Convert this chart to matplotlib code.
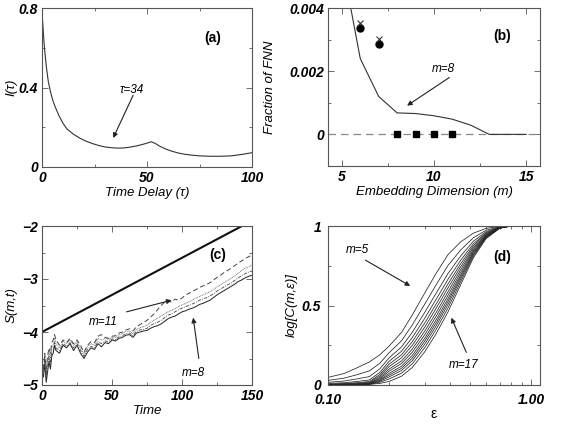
import matplotlib
matplotlib.use("Agg")
import matplotlib.pyplot as plt
from matplotlib.ticker import FixedLocator, NullFormatter, LogLocator

plt.rcParams['font.family'] = ['Liberation Sans', 'DejaVu Sans']

# ---------------- data: panel (a) ----------------
tau = [0, 1, 2, 3, 4, 5, 6, 8, 10, 12, 15, 18, 21, 24, 27, 30, 33, 36, 39, 42, 45, 48, 50, 52,
       54, 56, 59, 62, 65, 68, 71, 75, 80, 85, 90, 95, 100]
mutual_info = [0.78, 0.62, 0.51, 0.43, 0.38, 0.34, 0.31, 0.26, 0.22, 0.19, 0.165, 0.145, 0.13,
               0.118, 0.108, 0.101, 0.097, 0.095, 0.096, 0.100, 0.106, 0.114, 0.120, 0.127,
               0.118, 0.105, 0.090, 0.079, 0.070, 0.064, 0.060, 0.056, 0.054, 0.054, 0.056,
               0.063, 0.072]

# ---------------- data: panel (b) ----------------
fnn_m = [5, 6, 7, 8, 9, 10, 11, 12, 13, 14, 15]
fnn_frac = [0.0055, 0.0024, 0.0012, 0.00068, 0.00066, 0.00059, 0.00048, 0.00029, 0.0, 0.0, 0.0]
circ_m = [6, 7]
circ_v = [0.00338, 0.00286]
cross_m = [6, 7]
cross_v = [0.00354, 0.00302]
sq_m = [8, 9, 10, 11]
sq_v = [0.0, 0.0, 0.0, 0.0]
zero_m = [4.25, 15.75]
zero_v = [0.0, 0.0]

# ---------------- data: panel (c) ----------------
t = [0, 1, 2, 3, 4, 5, 6, 7, 8, 9, 10,
     12.5, 15, 17.5, 20, 22.5, 25, 27.5, 30, 32.5, 35, 37.5, 40, 42.5, 45, 47.5, 50,
     52.5, 55, 57.5, 60, 62.5, 65, 67.5, 70, 72.5, 75, 77.5, 80, 82.5, 85, 87.5, 90,
     92.5, 95, 97.5, 100, 102.5, 105, 107.5, 110, 112.5, 115, 117.5, 120, 122.5, 125,
     127.5, 130, 132.5, 135, 137.5, 140, 142.5, 145, 147.5, 150]
s_m8 = [-4.70, -4.85, -4.60, -4.95, -4.75, -4.55, -4.70, -4.45, -4.40, -4.25, -4.35,
        -4.40, -4.25, -4.30, -4.22, -4.35, -4.25, -4.40, -4.50, -4.38, -4.30, -4.33, -4.22,
        -4.28, -4.20, -4.22, -4.15, -4.17, -4.12, -4.10, -4.06, -4.05, -4.10, -4.02, -4.00,
        -3.98, -3.97, -3.93, -3.90, -3.88, -3.85, -3.80, -3.75, -3.72, -3.70, -3.66, -3.62,
        -3.60, -3.57, -3.55, -3.52, -3.48, -3.46, -3.43, -3.40, -3.35, -3.30, -3.26, -3.22,
        -3.18, -3.14, -3.10, -3.05, -3.02, -2.98, -2.95, -2.93]
s_m9 = [-4.65, -4.80, -4.50, -4.85, -4.65, -4.45, -4.60, -4.35, -4.35, -4.20, -4.30,
        -4.35, -4.22, -4.27, -4.20, -4.30, -4.22, -4.35, -4.46, -4.33, -4.27, -4.30, -4.18,
        -4.22, -4.17, -4.18, -4.13, -4.14, -4.09, -4.07, -4.03, -4.02, -4.07, -3.99, -3.96,
        -3.95, -3.93, -3.88, -3.84, -3.82, -3.78, -3.73, -3.68, -3.66, -3.62, -3.58, -3.55,
        -3.52, -3.50, -3.47, -3.44, -3.40, -3.38, -3.35, -3.32, -3.28, -3.23, -3.19, -3.15,
        -3.11, -3.08, -3.03, -2.98, -2.94, -2.90, -2.87, -2.85]
s_m10 = [-4.60, -4.75, -4.45, -4.80, -4.55, -4.40, -4.50, -4.30, -4.25, -4.12, -4.22,
         -4.30, -4.18, -4.22, -4.15, -4.25, -4.18, -4.30, -4.42, -4.28, -4.22, -4.25, -4.12,
         -4.15, -4.12, -4.14, -4.10, -4.10, -4.05, -4.03, -3.99, -3.98, -4.03, -3.95, -3.92,
         -3.90, -3.87, -3.82, -3.78, -3.74, -3.70, -3.66, -3.62, -3.59, -3.56, -3.52, -3.49,
         -3.46, -3.43, -3.40, -3.36, -3.33, -3.30, -3.27, -3.24, -3.20, -3.15, -3.11, -3.07,
         -3.03, -2.99, -2.94, -2.89, -2.84, -2.80, -2.77, -2.74]
s_m11 = [-4.55, -4.70, -4.40, -4.70, -4.45, -4.30, -4.40, -4.20, -4.15, -4.05, -4.15,
         -4.25, -4.15, -4.20, -4.12, -4.22, -4.15, -4.25, -4.38, -4.25, -4.18, -4.20, -4.08,
         -4.05, -4.10, -4.12, -4.08, -4.07, -4.02, -4.00, -3.96, -3.94, -3.98, -3.90, -3.86,
         -3.82, -3.78, -3.72, -3.66, -3.58, -3.50, -3.44, -3.40, -3.44, -3.38, -3.40, -3.36,
         -3.30, -3.27, -3.23, -3.20, -3.16, -3.13, -3.10, -3.07, -3.02, -2.97, -2.93, -2.88,
         -2.84, -2.80, -2.75, -2.70, -2.66, -2.62, -2.58, -2.55]
ref_t = [0, 150]
ref_s = [-4.0, -1.90]

# ---------------- data: panel (d) ----------------
eps = [0.10, 0.12, 0.14, 0.16, 0.18, 0.20, 0.23, 0.26, 0.30, 0.34, 0.39, 0.45, 0.52, 0.60, 0.70, 0.80]
c_m5 = [.048, .072, .110, .145, .190, .245, .330, .440, .580, .700, .820, .900, .955, .985, .998, 1.0]
c_m6 = [.029, .043, .066, .089, .137, .203, .278, .377, .510, .628, .752, .849, .926, .973, .996, 1.0]
c_m7 = [.017, .025, .039, .053, .102, .171, .239, .331, .458, .575, .701, .811, .904, .964, .994, 1.0]
c_m8 = [.010, .014, .023, .032, .079, .149, .212, .298, .421, .537, .665, .784, .888, .957, .992, 1.0]
c_m9 = [.006, .009, .015, .022, .066, .131, .190, .272, .391, .506, .636, .762, .876, .952, .991, 1.0]
c_m10 = [.004, .007, .011, .017, .056, .116, .171, .249, .365, .480, .611, .743, .865, .947, .990, 1.0]
c_m11 = [.003, .004, .008, .012, .047, .100, .151, .226, .340, .453, .586, .725, .854, .943, .990, 1.0]
c_m12 = [.002, .003, .005, .010, .040, .087, .135, .206, .317, .430, .564, .708, .845, .939, .989, 1.0]
c_m13 = [.001, .002, .004, .008, .033, .073, .118, .186, .295, .407, .543, .692, .836, .935, .988, 1.0]
c_m14 = [.001, .001, .003, .007, .028, .062, .105, .169, .277, .388, .525, .679, .828, .932, .987, 1.0]
c_m15 = [.000, .001, .002, .005, .023, .051, .091, .153, .258, .369, .507, .665, .820, .928, .987, 1.0]
c_m16 = [.000, .000, .001, .005, .017, .038, .074, .133, .236, .347, .485, .649, .811, .925, .986, 1.0]
c_m17 = [.000, .000, .001, .004, .010, .022, .055, .110, .210, .320, .460, .630, .800, .920, .985, 1.0]
corr_curves = [c_m5, c_m6, c_m7, c_m8, c_m9, c_m10, c_m11, c_m12, c_m13, c_m14, c_m15, c_m16, c_m17]

# ---------------- figure ----------------
fig = plt.figure(figsize=(5.68, 4.24), dpi=100)
W, H = 568.0, 424.0

def mkax(l, r, t_, b):
    return fig.add_axes([l / W, 1 - b / H, (r - l) / W, (b - t_) / H])

axA = mkax(42, 252, 8, 167)
axB = mkax(328, 540, 8, 166)
axC = mkax(42, 252, 226, 385)
axD = mkax(328, 540, 226, 385)

LABFONT = dict(fontsize=9.5, fontstyle='italic')
ANNFONT = dict(fontsize=8.5, fontstyle='italic')
SPINE_C = '#555555'

def style(ax, xpad=3, ypad=3):
    for s in ax.spines.values():
        s.set_linewidth(0.8)
        s.set_color(SPINE_C)
    ax.tick_params(which='both', direction='in', top=True, right=True, color=SPINE_C,
                   width=0.6)
    ax.tick_params(which='major', length=4)
    ax.tick_params(axis='x', which='major', pad=xpad)
    ax.tick_params(axis='y', which='major', pad=ypad)
    ax.tick_params(which='minor', length=2.5)
    for lbl in ax.get_xticklabels() + ax.get_yticklabels():
        lbl.set_fontsize(10)
        lbl.set_fontweight('bold')
        lbl.set_fontstyle('italic')

arrow_kw = dict(arrowstyle='-|>', color='#222222', lw=0.8, mutation_scale=7, shrinkA=0, shrinkB=0)

# ---- (a)
axA.plot(tau, mutual_info, color='#333333', lw=0.8)
axA.set_xlim(0, 100)
axA.set_ylim(0, 0.8)
axA.set_xticks([0, 50, 100])
axA.set_xticklabels(['0', '50', '100'])
axA.set_yticks([0, 0.4, 0.8])
axA.set_yticklabels(['0', '0.4', '0.8'])
axA.xaxis.set_minor_locator(FixedLocator([25, 75]))
axA.yaxis.set_minor_locator(FixedLocator([0.2, 0.6]))
axA.set_xlabel('Time Delay (τ)', labelpad=1, **LABFONT)
axA.set_ylabel('I(τ)', labelpad=1, **LABFONT)
axA.annotate('', xy=(33.9, 0.146), xytext=(43.4, 0.361), arrowprops=arrow_kw)
axA.text(42.6, 0.387, 'τ=34', ha='center', va='center', **ANNFONT)
axA.text(81.5, 0.65, '(a)', ha='center', va='center', fontsize=10, fontweight='bold')
style(axA)

# ---- (b)
axB.plot(zero_m, zero_v, color='#888888', lw=0.9, dashes=(6, 4))
axB.plot(fnn_m, fnn_frac, color='#333333', lw=0.8)
axB.plot(circ_m, circ_v, 'o', color='black', ms=5)
axB.plot(cross_m, cross_v, 'x', color='#333333', ms=5, mew=0.8)
axB.plot(sq_m, sq_v, 's', color='black', ms=4.5)
axB.set_xlim(4.25, 15.75)
axB.set_ylim(-0.001, 0.004)
axB.set_xticks([5, 10, 15])
axB.set_xticklabels(['5', '10', '15'])
axB.set_yticks([0, 0.002, 0.004])
axB.set_yticklabels(['0', '0.002', '0.004'])
axB.xaxis.set_minor_locator(FixedLocator([7.5, 12.5]))
axB.yaxis.set_minor_locator(FixedLocator([0.001, 0.003]))
axB.set_xlabel('Embedding Dimension (m)', labelpad=1, **LABFONT)
axB.set_ylabel('Fraction of FNN', labelpad=9, **LABFONT)
axB.annotate('', xy=(8.54, 0.00091), xytext=(10.83, 0.0018), arrowprops=arrow_kw)
axB.text(10.5, 0.00208, 'm=8', ha='center', va='center', **ANNFONT)
axB.text(13.7, 0.0031, '(b)', ha='center', va='center', fontsize=10, fontweight='bold')
style(axB)

# ---- (c)
axC.plot(ref_t, ref_s, color='#111111', lw=1.5)
axC.plot(t, s_m8, color='#222222', lw=0.7)
axC.plot(t, s_m9, color='#444444', lw=0.6, dashes=(4, 1.5, 1, 1.5))
axC.plot(t, s_m10, color='#555555', lw=0.6, dashes=(1, 1))
axC.plot(t, s_m11, color='#444444', lw=0.7, dashes=(5, 3))
axC.set_xlim(0, 150)
axC.set_ylim(-5, -2)
axC.set_xticks([0, 50, 100, 150])
axC.set_xticklabels(['0', '50', '100', '150'])
axC.set_yticks([-5, -4, -3, -2])
axC.set_yticklabels(['\u22125', '\u22124', '\u22123', '\u22122'])
axC.xaxis.set_minor_locator(FixedLocator([25, 75, 125]))
axC.yaxis.set_minor_locator(FixedLocator([-4.5, -3.5, -2.5]))
axC.set_xlabel('Time', labelpad=1, **LABFONT)
axC.set_ylabel('S(m,t)', labelpad=3, **LABFONT)
axC.annotate('', xy=(92.5, -3.40), xytext=(60.4, -3.62), arrowprops=arrow_kw)
axC.text(43.7, -3.81, 'm=11', ha='center', va='center', **ANNFONT)
axC.annotate('', xy=(108, -3.73), xytext=(112, -4.50), arrowprops=arrow_kw)
axC.text(108, -4.78, 'm=8', ha='center', va='center', **ANNFONT)
axC.text(125.7, -2.55, '(c)', ha='center', va='center', fontsize=10, fontweight='bold')
style(axC)

# ---- (d)
for cv in corr_curves:
    axD.plot(eps, cv, color='#222222', lw=0.55)
axD.set_xscale('log')
axD.set_xlim(0.1, 1.107)
axD.set_ylim(0, 1)
axD.set_xticks([0.1, 1.0])
axD.set_xticklabels(['0.10', '1.00'])
axD.xaxis.set_minor_locator(LogLocator(base=10, subs=[2, 3, 4, 5, 6, 7, 8, 9]))
axD.xaxis.set_minor_formatter(NullFormatter())
axD.set_yticks([0, 0.5, 1])
axD.set_yticklabels(['0', '0.5', '1'])
axD.yaxis.set_minor_locator(FixedLocator([0.25, 0.75]))
axD.set_xlabel('ε', labelpad=0, fontsize=10)
axD.set_ylabel('log[C(m,ε)]', labelpad=3, **LABFONT)
axD.annotate('', xy=(0.254, 0.623), xytext=(0.153, 0.785), arrowprops=arrow_kw)
axD.text(0.139, 0.847, 'm=5', ha='center', va='center', **ANNFONT)
axD.annotate('', xy=(0.405, 0.423), xytext=(0.48, 0.205), arrowprops=arrow_kw)
axD.text(0.466, 0.125, 'm=17', ha='center', va='center', **ANNFONT)
axD.text(0.72, 0.805, '(d)', ha='center', va='center', fontsize=10, fontweight='bold')
style(axD, xpad=6, ypad=5)

fig.savefig('out.png', dpi=100, facecolor='white')
